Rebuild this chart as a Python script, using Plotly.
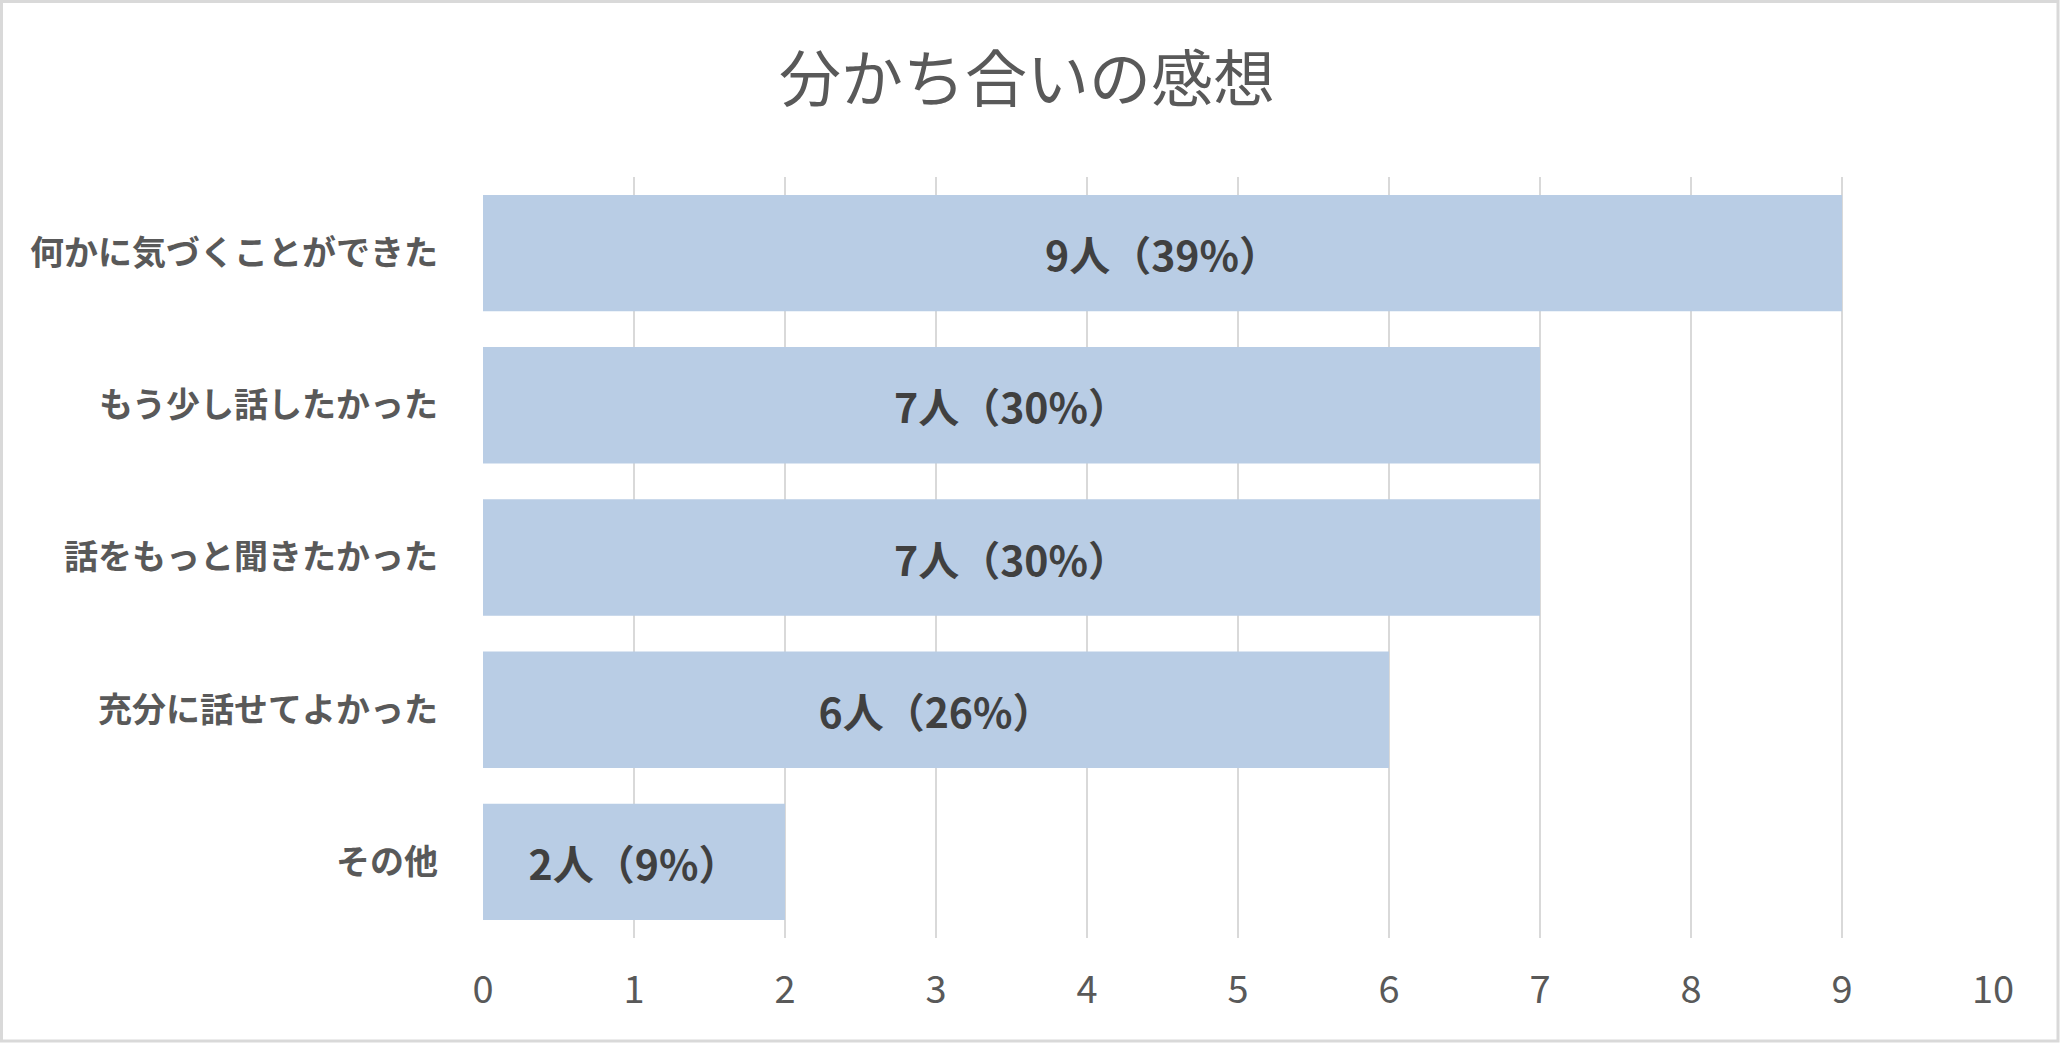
import plotly.graph_objects as go

categories = ["何かに気づくことができた", "もう少し話したかった", "話をもっと聞きたかった", "充分に話せてよかった", "その他"]
counts = [9, 7, 7, 6, 2]
percents = [39, 30, 30, 26, 9]
x_ticks = list(range(0, 11))

labels = [f"{c}人（{p}%）" for c, p in zip(counts, percents)]

W, H = 2065, 1046
L, R, T, B = 483, 72, 177, 108

fig = go.Figure(go.Bar(
    x=counts, y=categories, orientation="h",
    marker=dict(color="#B9CDE5", line=dict(width=0)),
    text=labels, textposition="inside", insidetextanchor="middle",
    textfont=dict(family="Noto Sans CJK JP", size=41, color="#404040", weight="bold"),
    textangle=0,
))

fig.update_layout(
    width=W, height=H,
    margin=dict(l=L, r=R, t=T, b=B),
    paper_bgcolor="white", plot_bgcolor="white",
    bargap=0.235,
    showlegend=False,
    title=dict(text="分かち合いの感想", x=(1027) / W, xanchor="center", y=1 - 80 / H, yanchor="middle",
               font=dict(family="Noto Sans CJK JP", size=62, color="#595959")),
    xaxis=dict(range=[0, 10], tickvals=x_ticks, ticktext=[str(v) for v in x_ticks],
               showgrid=True, gridcolor="#D9D9D9", gridwidth=2, zeroline=False,
               showline=False, ticks="", ticklabelstandoff=26,
               tickfont=dict(family="Noto Sans CJK JP", size=38, color="#595959")),
    yaxis=dict(autorange="reversed", showgrid=False, showline=False, ticks="",
               ticklabelstandoff=44,
               tickfont=dict(family="Noto Sans CJK JP", size=34, color="#595959", weight="bold")),
    font=dict(family="Noto Sans CJK JP"),
)

pw, ph = W - L - R, H - T - B


def px_x(v):
    return (v - L) / pw


def px_y(v):
    return (H - B - v) / ph


fig.add_shape(type="rect", xref="paper", yref="paper",
              x0=px_x(1.5), x1=px_x(2058), y0=px_y(1041), y1=px_y(1.5),
              line=dict(color="#D9D9D9", width=3), fillcolor="rgba(0,0,0,0)", layer="below")

fig.write_html("out.html", config={"displayModeBar": False},
               post_script="document.body.style.margin='0';document.body.style.padding='0';")
